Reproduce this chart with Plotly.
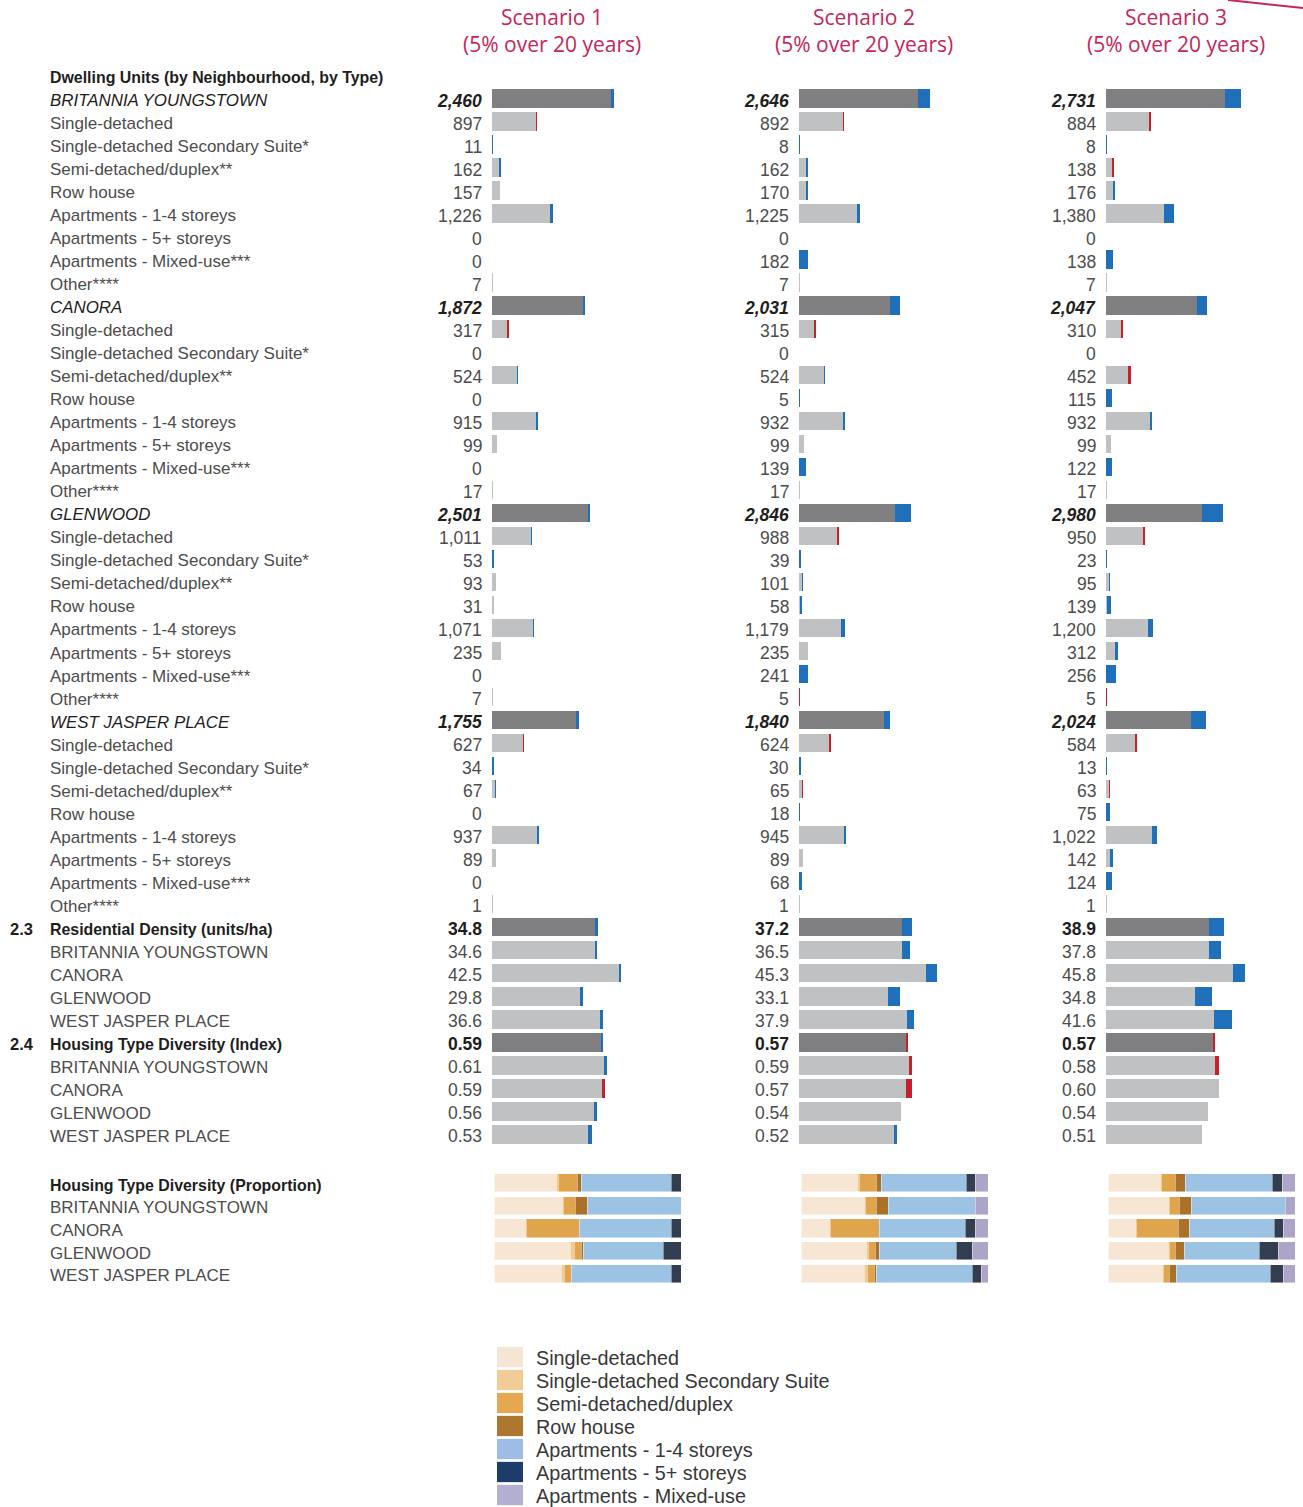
import plotly.graph_objects as go

# ---------------------------------------------------------------------------
# Data
# ---------------------------------------------------------------------------
SCENARIOS = ["Scenario 1", "Scenario 2", "Scenario 3"]
SCENARIO_SUBTITLE = "(5% over 20 years)"

NEIGHBOURHOODS = ["BRITANNIA YOUNGSTOWN", "CANORA", "GLENWOOD", "WEST JASPER PLACE"]

HOUSING_TYPES = [
    "Single-detached",
    "Single-detached Secondary Suite*",
    "Semi-detached/duplex**",
    "Row house",
    "Apartments - 1-4 storeys",
    "Apartments - 5+ storeys",
    "Apartments - Mixed-use***",
    "Other****",
]

LEGEND_TYPES = [
    "Single-detached",
    "Single-detached Secondary Suite",
    "Semi-detached/duplex",
    "Row house",
    "Apartments - 1-4 storeys",
    "Apartments - 5+ storeys",
    "Apartments - Mixed-use",
]

# Dwelling units by type (order of HOUSING_TYPES): existing stock and scenarios
britannia_existing = [906, 5, 145, 157, 1180, 0, 0, 7]
britannia_s1 = [897, 11, 162, 157, 1226, 0, 0, 7]
britannia_s2 = [892, 8, 162, 170, 1225, 0, 182, 7]
britannia_s3 = [884, 8, 138, 176, 1380, 0, 138, 7]

canora_existing = [327, 0, 505, 0, 900, 99, 0, 17]
canora_s1 = [317, 0, 524, 0, 915, 99, 0, 17]
canora_s2 = [315, 0, 524, 5, 932, 99, 139, 17]
canora_s3 = [310, 0, 452, 115, 932, 99, 122, 17]

glenwood_existing = [1000, 15, 93, 31, 1070, 235, 0, 7]
glenwood_s1 = [1011, 53, 93, 31, 1071, 235, 0, 7]
glenwood_s2 = [988, 39, 101, 58, 1179, 235, 241, 5]
glenwood_s3 = [950, 23, 95, 139, 1200, 312, 256, 5]

wjp_existing = [630, 10, 66, 0, 920, 89, 0, 1]
wjp_s1 = [627, 34, 67, 0, 937, 89, 0, 1]
wjp_s2 = [624, 30, 65, 18, 945, 89, 68, 1]
wjp_s3 = [584, 13, 63, 75, 1022, 142, 124, 1]

# Residential density (units/ha): overall, then each neighbourhood
density_existing = [34.0, 33.9, 41.7, 29.2, 35.6]
density_s1 = [34.8, 34.6, 42.5, 29.8, 36.6]
density_s2 = [37.2, 36.5, 45.3, 33.1, 37.9]
density_s3 = [38.9, 37.8, 45.8, 34.8, 41.6]

# Housing type diversity index: overall, then each neighbourhood
diversity_existing = [0.58, 0.60, 0.60, 0.54, 0.51]
diversity_s1 = [0.59, 0.61, 0.59, 0.56, 0.53]
diversity_s2 = [0.57, 0.59, 0.57, 0.54, 0.52]
diversity_s3 = [0.57, 0.58, 0.60, 0.54, 0.51]

units_existing = [britannia_existing, canora_existing, glenwood_existing, wjp_existing]
units_scenarios = [
    [britannia_s1, canora_s1, glenwood_s1, wjp_s1],
    [britannia_s2, canora_s2, glenwood_s2, wjp_s2],
    [britannia_s3, canora_s3, glenwood_s3, wjp_s3],
]
density_scenarios = [density_s1, density_s2, density_s3]
diversity_scenarios = [diversity_s1, diversity_s2, diversity_s3]

# ---------------------------------------------------------------------------
# Styling
# ---------------------------------------------------------------------------
W, H = 1303, 1507
FONT = "Liberation Sans, Arial, Helvetica, sans-serif"
HEAD_FONT = "Open Sans, Liberation Sans, sans-serif"
ACCENT = "#c92558"
DARK_TEXT = "#1e1e1e"
TEXT = "#4d4d4d"
GREY_TOTAL = "#808083"
GREY_ITEM = "#c0c1c3"
BLUE = "#1f6fba"
RED = "#c8202a"
PROP_COLORS = ["#f6e6d3", "#efcb98", "#e0a44d", "#ab7128", "#9dc3e4", "#323d50", "#ada5c7"]
LEGEND_COLORS = ["#f5e6d4", "#f1cc97", "#e5a74f", "#ad772f", "#9dbde4", "#1e3c6b", "#b3afd0"]

ROW_TOP = 75.5      # pixel centre of the first row
ROW_STEP = 23.02    # pixel pitch of rows
COL_START = [492, 799, 1106]
VALUE_RIGHT = [484, 791, 1098]
HEADER_CX = [552, 864, 1176]
AXIS_PX = 190
LABEL_X = 48

# pixel per unit for each bar scale
PX_UNITS = 0.0495
PX_UNITS_GLENWOOD = 0.0392
PX_DENSITY = 3.04
PX_INDEX = 188.0

fig = go.Figure()
layout_axes = {}
axis_counter = [0]


def new_xaxis(start_px, width_px, rng):
    axis_counter[0] += 1
    n = axis_counter[0]
    name = "x" if n == 1 else f"x{n}"
    key = "xaxis" if n == 1 else f"xaxis{n}"
    layout_axes[key] = dict(
        domain=[start_px / W, (start_px + width_px) / W],
        range=rng, visible=False, fixedrange=True, anchor="y",
    )
    return name


def add_change_bars(xname, ks, existing, values, totals):
    grey = [min(e, v) for e, v in zip(existing, values)]
    up = [(v - e) if v > e else None for e, v in zip(existing, values)]
    down = [(e - v) if v < e else None for e, v in zip(existing, values)]
    colors = [GREY_TOTAL if t else GREY_ITEM for t in totals]
    common = dict(y=ks, orientation="h", width=0.8, xaxis=xname, yaxis="y",
                  showlegend=False, hoverinfo="skip")
    fig.add_trace(go.Bar(x=grey, marker=dict(color=colors, line=dict(width=0)), **common))
    fig.add_trace(go.Bar(x=up, marker=dict(color=BLUE, line=dict(width=0)), **common))
    fig.add_trace(go.Bar(x=down, marker=dict(color=RED, line=dict(width=0)), **common))


annotations = []


def text(xpx, k, s, anchor="left", size=17, color=TEXT, family=FONT, yshift=-2):
    annotations.append(dict(
        x=xpx / W, xref="paper", y=k, yref="y", text=s, showarrow=False,
        xanchor=anchor, yanchor="middle", yshift=yshift,
        font=dict(family=family, size=size, color=color),
    ))


def fmt_units(v):
    return f"{v:,}"


HEAD_SIZE = 15.9
VALUE_SIZE = 17.5

# ---------------------------------------------------------------------------
# Row layout
# ---------------------------------------------------------------------------
text(LABEL_X, 0, "<b>Dwelling Units (by Neighbourhood, by Type)</b>", size=HEAD_SIZE, color=DARK_TEXT)

unit_rows = []  # (k, neighbourhood index, type index or None)
k = 1
for n, name in enumerate(NEIGHBOURHOODS):
    text(LABEL_X, k, f"<i>{name}</i>", size=16.9, color=DARK_TEXT)
    unit_rows.append((k, n, None))
    k += 1
    for t, tname in enumerate(HOUSING_TYPES):
        text(LABEL_X, k, tname)
        unit_rows.append((k, n, t))
        k += 1

K_DENSITY = k
text(8, K_DENSITY, "<b>2.3</b>", size=16.5, color=DARK_TEXT)
text(LABEL_X, K_DENSITY, "<b>Residential Density (units/ha)</b>", size=HEAD_SIZE, color=DARK_TEXT)
for i, name in enumerate(NEIGHBOURHOODS):
    text(LABEL_X, K_DENSITY + 1 + i, name)

K_INDEX = K_DENSITY + 5
text(8, K_INDEX, "<b>2.4</b>", size=16.5, color=DARK_TEXT)
text(LABEL_X, K_INDEX, "<b>Housing Type Diversity (Index)</b>", size=HEAD_SIZE, color=DARK_TEXT)
for i, name in enumerate(NEIGHBOURHOODS):
    text(LABEL_X, K_INDEX + 1 + i, name)

K_PROP = K_INDEX + 6.12
PROP_STEP = 0.985
prop_ks = [K_PROP + PROP_STEP * i for i in range(5)]
text(LABEL_X, prop_ks[0], "<b>Housing Type Diversity (Proportion)</b>", size=HEAD_SIZE, color=DARK_TEXT)
for i, name in enumerate(NEIGHBOURHOODS):
    text(LABEL_X, prop_ks[i + 1], name)

# ---------------------------------------------------------------------------
# Scenario columns
# ---------------------------------------------------------------------------
for c, scen in enumerate(SCENARIOS):
    cx = HEADER_CX[c]
    annotations.append(dict(x=cx / W, xref="paper", y=1 - 17 / H, yref="paper", text=scen,
                            showarrow=False, xanchor="center", yanchor="middle",
                            font=dict(family=HEAD_FONT, size=21, color=ACCENT)))
    annotations.append(dict(x=cx / W, xref="paper", y=1 - 44 / H, yref="paper", text=SCENARIO_SUBTITLE,
                            showarrow=False, xanchor="center", yanchor="middle",
                            font=dict(family=HEAD_FONT, size=21, color=ACCENT)))

    x0 = COL_START[c]
    ax_units = new_xaxis(x0, AXIS_PX, [0, AXIS_PX / PX_UNITS])
    ax_glen = new_xaxis(x0, AXIS_PX, [0, AXIS_PX / PX_UNITS_GLENWOOD])
    ax_dens = new_xaxis(x0, AXIS_PX, [0, AXIS_PX / PX_DENSITY])
    ax_idx = new_xaxis(x0, AXIS_PX, [0, AXIS_PX / PX_INDEX])
    ax_prop = new_xaxis(x0 + 2.5, 186.5, [0, 1])

    scen_units = units_scenarios[c]

    # dwelling units, one bar group per neighbourhood (Glenwood drawn on its own scale)
    for n in range(len(NEIGHBOURHOODS)):
        ks, ex, vals, tots = [], [], [], []
        for (kk, nn, t) in unit_rows:
            if nn != n:
                continue
            if t is None:
                e = sum(units_existing[n])
                v = sum(scen_units[n])
                text(VALUE_RIGHT[c], kk, f"<b><i>{fmt_units(v)}</i></b>", anchor="right",
                     size=VALUE_SIZE, color=DARK_TEXT)
            else:
                e = units_existing[n][t]
                v = scen_units[n][t]
                text(VALUE_RIGHT[c], kk, fmt_units(v), anchor="right", size=VALUE_SIZE, color=TEXT)
            ks.append(kk)
            ex.append(e)
            vals.append(v)
            tots.append(t is None)
        add_change_bars(ax_glen if NEIGHBOURHOODS[n] == "GLENWOOD" else ax_units, ks, ex, vals, tots)

    # residential density
    dvals = density_scenarios[c]
    dks = [K_DENSITY + i for i in range(5)]
    add_change_bars(ax_dens, dks, density_existing, dvals, [True] + [False] * 4)
    for i, v in enumerate(dvals):
        s = f"{v:.1f}"
        text(VALUE_RIGHT[c], dks[i], f"<b>{s}</b>" if i == 0 else s, anchor="right", size=VALUE_SIZE,
             color=DARK_TEXT if i == 0 else TEXT)

    # diversity index
    ivals = diversity_scenarios[c]
    iks = [K_INDEX + i for i in range(5)]
    add_change_bars(ax_idx, iks, diversity_existing, ivals, [True] + [False] * 4)
    for i, v in enumerate(ivals):
        s = f"{v:.2f}"
        text(VALUE_RIGHT[c], iks[i], f"<b>{s}</b>" if i == 0 else s, anchor="right", size=VALUE_SIZE,
             color=DARK_TEXT if i == 0 else TEXT)

    # housing type proportions: all neighbourhoods combined, then each one
    type_rows = [[sum(scen_units[n][t] for n in range(4)) for t in range(7)]]
    type_rows += [scen_units[n][:7] for n in range(4)]
    shares = [[v / sum(r) for v in r] for r in type_rows]
    for t in range(7):
        fig.add_trace(go.Bar(
            x=[row[t] for row in shares], y=prop_ks, orientation="h", width=0.8,
            xaxis=ax_prop, yaxis="y", showlegend=False, hoverinfo="skip",
            marker=dict(color=PROP_COLORS[t], line=dict(width=0.8, color="rgba(255,255,255,0.55)")),
        ))

# ---------------------------------------------------------------------------
# Legend for the proportion bars
# ---------------------------------------------------------------------------
shapes = []
K_LEGEND = (1357 - ROW_TOP) / ROW_STEP
for i, (lab, col) in enumerate(zip(LEGEND_TYPES, LEGEND_COLORS)):
    kk = K_LEGEND + i * (23 / ROW_STEP)
    shapes.append(dict(type="rect", xref="paper", yref="y", x0=497 / W, x1=523 / W,
                       y0=kk - 0.44, y1=kk + 0.44, fillcolor=col, line=dict(width=0), layer="above"))
    text(534, kk, lab, size=19.8, color="#383838", yshift=-1)

# accent rule in the top-right corner
shapes.append(dict(type="line", xref="paper", yref="paper", x0=1228 / W, y0=1.0, x1=1.0, y1=1 - 8 / H,
                   line=dict(color=ACCENT, width=2)))

k_top = -ROW_TOP / ROW_STEP
k_bottom = (H - ROW_TOP) / ROW_STEP

fig.update_layout(
    width=W, height=H, margin=dict(l=0, r=0, t=0, b=0),
    paper_bgcolor="white", plot_bgcolor="rgba(0,0,0,0)",
    barmode="stack", bargap=0, showlegend=False,
    yaxis=dict(range=[k_bottom, k_top], domain=[0, 1], visible=False, fixedrange=True),
    annotations=annotations, shapes=shapes,
    **layout_axes,
)

fig.write_html("out.html")
